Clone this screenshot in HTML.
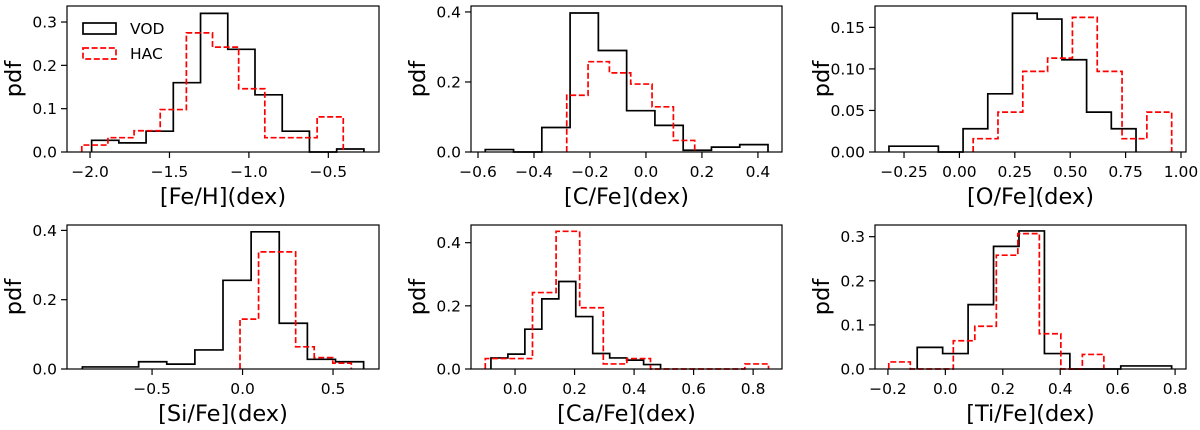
<!DOCTYPE html>
<html><head><meta charset="utf-8"><style>
body{margin:0;background:#fff;}
svg text{font-family:"DejaVu Sans","Liberation Sans",sans-serif;fill:#000;}
</style></head><body>
<svg id="fig" width="1200" height="425" viewBox="0 0 1200 425" xmlns="http://www.w3.org/2000/svg"></svg>
<script>
// Panel data: bin start, bin width, pdf values
const feStartV=-1.99, feWidthV=0.1714, feVOD=[0.027,0.021,0.048,0.16,0.32,0.237,0.132,0.048,0,0.007];
const feStartH=-2.052, feWidthH=0.1646, feHAC=[0.016,0.033,0.049,0.098,0.275,0.242,0.146,0.033,0.033,0.081];
const cStartV=-0.574, cWidthV=0.101, cVOD=[0.007,0,0.07,0.397,0.29,0.118,0.076,0.005,0.014,0.021];
const cStartH=-0.283, cWidthH=0.0762, cHAC=[0.162,0.258,0.226,0.194,0.129,0.033];
const oStartV=-0.318, oWidthV=0.1115, oVOD=[0.007,0.007,0,0.028,0.07,0.167,0.16,0.111,0.048,0.028];
const oStartH=0.062, oWidthH=0.112, oHAC=[0.016,0.048,0.097,0.113,0.162,0.097,0.016,0.048];
const siStartV=-0.885, siWidthV=0.1554, siVOD=[0.006,0.006,0.021,0.014,0.055,0.256,0.396,0.132,0.028,0.021];
const siStartH=-0.014, siWidthH=0.1025, siHAC=[0.144,0.338,0.338,0.064,0.033,0.017];
const caStartV=-0.081, caWidthV=0.057, caVOD=[0.035,0.047,0.126,0.222,0.277,0.166,0.049,0.035,0.028,0.014];
const caStartH=-0.1, caWidthH=0.0793, caHAC=[0.033,0.033,0.242,0.436,0.194,0.016,0.033,0,0,0,0,0.016];
const tiStartV=-0.098, tiWidthV=0.0886, tiVOD=[0.049,0.035,0.146,0.278,0.313,0.035,0,0,0.007,0.007];
const tiStartH=-0.197, tiWidthH=0.0749, tiHAC=[0.016,0,0,0.064,0.097,0.258,0.307,0.08,0,0.033];
// Tick labels
const feXT=[-2.0,-1.5,-1.0,-0.5], feYT=[0,0.1,0.2,0.3];
const cXT=[-0.6,-0.4,-0.2,0.0,0.2,0.4], cYT=[0,0.2,0.4];
const oXT=[-0.25,0,0.25,0.5,0.75,1.0], oYT=[0,0.05,0.1,0.15];
const siXT=[-0.5,0,0.5], siYT=[0,0.2,0.4];
const caXT=[0,0.2,0.4,0.6,0.8], caYT=[0,0.2,0.4];
const tiXT=[-0.2,0,0.2,0.4,0.6,0.8], tiYT=[0,0.1,0.2,0.3];

const NS="http://www.w3.org/2000/svg";
const svg=document.getElementById('fig');
function mk(tag,attrs,parent){const e=document.createElementNS(NS,tag);for(const k in attrs)e.setAttribute(k,attrs[k]);(parent||svg).appendChild(e);return e;}

const panels=[
 {name:'fe-h',L:67,R:379,T:6,B:152,x0:-2.145,x1:-0.181,y1:0.337,xt:feXT,yt:feYT,xd:1,yd:1,label:'[Fe/H](dex)',v:[feStartV,feWidthV,feVOD],h:[feStartH,feWidthH,feHAC],legend:true},
 {name:'c-fe',L:471,R:782,T:6,B:152,x0:-0.625,x1:0.486,y1:0.417,xt:cXT,yt:cYT,xd:1,yd:1,label:'[C/Fe](dex)',v:[cStartV,cWidthV,cVOD],h:[cStartH,cWidthH,cHAC]},
 {name:'o-fe',L:875,R:1186,T:6,B:152,x0:-0.381,x1:1.0226,y1:0.1757,xt:oXT,yt:oYT,xd:2,yd:2,label:'[O/Fe](dex)',v:[oStartV,oWidthV,oVOD],h:[oStartH,oWidthH,oHAC]},
 {name:'si-fe',L:67,R:379,T:225,B:369,x0:-0.970,x1:0.754,y1:0.4156,xt:siXT,yt:siYT,xd:1,yd:1,label:'[Si/Fe](dex)',v:[siStartV,siWidthV,siVOD],h:[siStartH,siWidthH,siHAC]},
 {name:'ca-fe',L:471,R:782,T:225,B:369,x0:-0.148,x1:0.897,y1:0.456,xt:caXT,yt:caYT,xd:1,yd:1,label:'[Ca/Fe](dex)',v:[caStartV,caWidthV,caVOD],h:[caStartH,caWidthH,caHAC]},
 {name:'ti-fe',L:875,R:1186,T:225,B:369,x0:-0.245,x1:0.838,y1:0.3265,xt:tiXT,yt:tiYT,xd:1,yd:1,label:'[Ti/Fe](dex)',v:[tiStartV,tiWidthV,tiVOD],h:[tiStartH,tiWidthH,tiHAC]}
];
function fmt(v,d){let s=v.toFixed(d);if(s.startsWith('-'))s='\u2212'+s.slice(1);if(s==='\u22120.0'||s==='\u22120.00')s=s.slice(1);return s;}
panels.forEach(p=>{
  const g=mk('g',{});
  
  
  const X=v=>p.L+(v-p.x0)/(p.x1-p.x0)*(p.R-p.L);
  const Y=v=>p.B-v/p.y1*(p.B-p.T);
  function hist(sw,col,dash,nm){
    const [s,w,vals]=sw;let d='M'+X(s)+','+Y(0);
    vals.forEach((v,i)=>{d+=' L'+X(s+i*w)+','+Y(v)+' L'+X(s+(i+1)*w)+','+Y(v);});
    d+=' L'+X(s+vals.length*w)+','+Y(0);
    const e=mk('path',{d:d,fill:'none',stroke:col,'stroke-width':1.7,'stroke-dasharray':dash},g);
    
    
  }
  hist(p.v,'#000','none','vod-histogram');
  hist(p.h,'#f00','6,2.6','hac-histogram');
  const fr=mk('rect',{x:p.L,y:p.T,width:p.R-p.L,height:p.B-p.T,fill:'none',stroke:'#000','stroke-width':1.2},g);
  
  
  p.xt.forEach(t=>{const x=X(t);mk('line',{x1:x,x2:x,y1:p.B,y2:p.B+6,stroke:'#000','stroke-width':1.2},g);
    const tx=mk('text',{x:x,y:p.B+25,'font-size':15.5,'text-anchor':'middle'},g);tx.textContent=fmt(t,p.xd);
    
    });
  p.yt.forEach(t=>{const y=Y(t);mk('line',{x1:p.L-6,x2:p.L,y1:y,y2:y,stroke:'#000','stroke-width':1.2},g);
    const tx=mk('text',{x:p.L-10,y:y+5.5,'font-size':15.5,'text-anchor':'end'},g);tx.textContent=fmt(t,p.yd);
    
    });
  const xl=mk('text',{x:(p.L+p.R)/2,y:p.B+52,'font-size':22.5,'text-anchor':'middle'},g);xl.textContent=p.label;
  
  
  const yx=p.L-46, yy=(p.T+p.B)/2;
  const yl=mk('text',{x:yx,y:yy,'font-size':22.5,'text-anchor':'middle',transform:'rotate(-90 '+yx+' '+yy+')'},g);yl.textContent='pdf';
  
  
  if(p.legend){
    const lg=mk('g',{},g);
    
    
    mk('rect',{x:83,y:23,width:33,height:11,fill:'none',stroke:'#000','stroke-width':1.7},lg);
    const t1=mk('text',{x:130,y:34,'font-size':15.5},lg);t1.textContent='VOD';
    
    
    mk('rect',{x:83,y:48,width:33,height:11,fill:'none',stroke:'#f00','stroke-width':1.7,'stroke-dasharray':'6,2.6'},lg);
    const t2=mk('text',{x:130,y:59,'font-size':15.5},lg);t2.textContent='HAC';
    
    
  }
});
</script>
</body></html>
